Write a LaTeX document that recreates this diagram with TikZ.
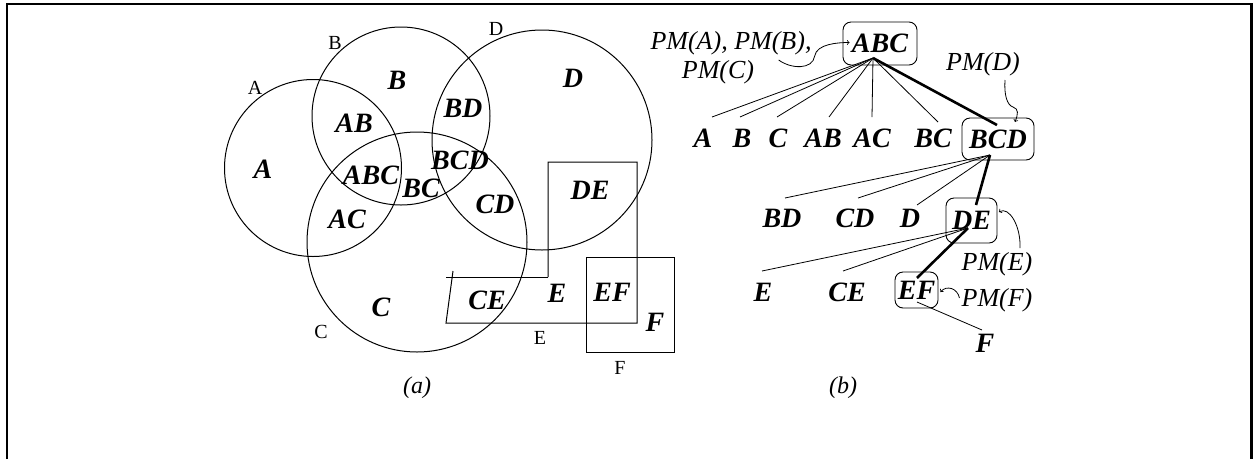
\documentclass[tikz,border=0pt]{standalone}
\usepackage{fontspec}
\setmainfont{Liberation Serif}
\usetikzlibrary{calc}
\begin{document}
\begin{tikzpicture}[x=1pt,y=-1pt,
  lbl/.style={font=\fontsize{28}{30}\selectfont\bfseries\itshape, inner sep=0pt},
  setname/.style={font=\fontsize{20}{22}\selectfont, inner sep=0pt},
  pm/.style={font=\fontsize{26}{28}\selectfont\itshape, inner sep=0pt},
  captext/.style={font=\fontsize{24}{26}\selectfont\itshape, inner sep=0pt},
  setline/.style={line width=1pt},
  boxed/.style={lbl, draw, rounded corners=8pt, line width=0.9pt},
  edge/.style={line width=0.8pt},
  thickedge/.style={line width=2.6pt},
  pmarrow/.style={line width=0.8pt, ->},
  frameline/.style={line width=2.5pt}]
\useasboundingbox (0,0) rectangle (1253,459);
% frame
\draw[frameline] (7,459) -- (7,4) -- (1251.5,4) -- (1251.5,459);

% ---------- (a) Venn diagram ----------
\draw[setline] (313,168) circle[radius=88.5pt];
\draw[setline] (401,116) circle[radius=89pt];
\draw[setline] (417,242) circle[radius=110pt];
\draw[setline] (542,140) circle[radius=110pt];
% region E
\draw[setline] (548,277) -- (548,162) -- (637,162) -- (637,323) -- (446,323) -- (453,271);
\draw[setline] (446,277) -- (548,277);
% region F
\draw[setline] (586,257) rectangle (674,352);

% set names
\node[setname] (sA) at (255,88) {A};
\node[setname] (sB) at (335,43) {B};
\node[setname] (sC) at (321,332) {C};
\node[setname] (sD) at (496,29) {D};
\node[setname] (sE) at (540,338) {E};
\node[setname] (sF) at (620,368) {F};

% region labels
\node[lbl] (vA) at (263,169) {A};
\node[lbl] (vB) at (397,80) {B};
\node[lbl] (vAB) at (354,123) {AB};
\node[lbl] (vBD) at (463,108) {BD};
\node[lbl] (vD) at (573,78) {D};
\node[lbl] (vABC) at (371,175) {ABC};
\node[lbl] (vBC) at (421,188) {BC};
\node[lbl] (vBCD) at (460,160) {BCD};
\node[lbl] (vAC) at (347,219) {AC};
\node[lbl] (vCD) at (495,204) {CD};
\node[lbl] (vDE) at (590,190) {DE};
\node[lbl] (vC) at (381,307) {C};
\node[lbl] (vCE) at (487,300) {CE};
\node[lbl] (vE) at (557,293) {E};
\node[lbl] (vEF) at (612,292) {EF};
\node[lbl] (vF) at (655,322) {F};

\node[captext] (capa) at (417,388) {(a)};

% ---------- (b) tree ----------
\node[pm] (pmab) at (731,43) {PM(A), PM(B),};
\node[pm] (pmc) at (718,72) {PM(C)};
\node[pm] (pmd) at (983,64) {PM(D)};
\node[pm] (pme) at (997,264) {PM(E)};
\node[pm] (pmf) at (997,300) {PM(F)};

\node[boxed, minimum width=74pt, minimum height=43pt] (ABC) at (880,43.5) {ABC};
\node[boxed, minimum width=72pt, minimum height=42pt] (BCD) at (998,139) {BCD};
\node[boxed, minimum width=51pt, minimum height=45pt] (DE) at (971.5,220.5) {DE};
\node[boxed, minimum width=43pt, minimum height=36pt] (EF) at (916.5,290) {EF};

\node[lbl] (tA) at (703,138) {A};
\node[lbl] (tB) at (742,138) {B};
\node[lbl] (tC) at (778,138) {C};
\node[lbl] (tAB) at (823,138) {AB};
\node[lbl] (tAC) at (872,138) {AC};
\node[lbl] (tBC) at (933,138) {BC};
\node[lbl] (tBD) at (782,218) {BD};
\node[lbl] (tCD) at (855,218) {CD};
\node[lbl] (tD) at (910,218) {D};
\node[lbl] (tE) at (763,292) {E};
\node[lbl] (tCE) at (847,292) {CE};
\node[lbl] (tF) at (985,343) {F};

\node[captext] (capb) at (843,388) {(b)};

% edge feet
\coordinate (abcF) at ($(ABC)+(-7,14.5)$);
\coordinate (bcdF) at ($(BCD)+(-8,16)$);
\coordinate (deF) at ($(DE)+(-3.5,7.5)$);
\coordinate (efF) at ($(EF)+(0.5,12)$);

\draw[edge] (abcF) -- ($(tA)+(9,-21)$);
\draw[edge] (abcF) -- ($(tB)+(-2,-21)$);
\draw[edge] (abcF) -- ($(tC)+(-1,-21)$);
\draw[edge] (abcF) -- ($(tAB)+(6,-21)$);
\draw[edge] (abcF) -- ($(tAC)+(0,-21)$);
\draw[edge] (abcF) -- ($(tBC)+(5,-16)$);
\draw[thickedge] (abcF) -- ($(BCD)+(-1,-14)$);

\draw[edge] (bcdF) -- ($(tBD)+(3,-20)$);
\draw[edge] (bcdF) -- ($(tCD)+(3,-20)$);
\draw[edge] (bcdF) -- ($(tD)+(7,-13)$);
\draw[thickedge] (bcdF) -- ($(DE)+(4.5,-15.5)$);

\draw[edge] (deF) -- ($(tE)+(-1,-21)$);
\draw[edge] (deF) -- ($(tCE)+(-4,-21)$);
\draw[thickedge] (deF) -- ($(EF)+(0.5,-12)$);

\draw[edge] (efF) -- ($(tF)+(-3,-13)$);

% PM arrows
\coordinate (pmabS) at ($(pmab.south east)+(-33,5)$);
\coordinate (abcIn) at ($(ABC.west)+(7,-1)$);
\draw[pmarrow] (pmabS) .. controls +(12,9) and +(-2,14) .. ($(pmabS)+(36,-4)$)
  .. controls +(2,-12) and +(-12,0) .. (abcIn);

\coordinate (pmdS) at ($(pmd)+(22,16)$);
\coordinate (pmdM) at ($(pmd)+(30,43)$);
\coordinate (bcdIn) at ($(BCD)+(17,-17)$);
\draw[pmarrow] (pmdS) .. controls +(-1,15) and +(-6,-2) .. (pmdM)
  .. controls +(6,2) and +(3,-8) .. (bcdIn);

\coordinate (pmeS) at ($(pme)+(23,-16)$);
\coordinate (deIn) at ($(DE.east)+(1.5,-8.5)$);
\draw[pmarrow] (pmeS) .. controls +(1,-22) and +(10,-6) .. (deIn);

\coordinate (pmfS) at ($(pmf.west)+(-2,-2)$);
\coordinate (efIn) at ($(EF.east)+(2,2)$);
\draw[pmarrow] (pmfS) .. controls +(-2,-10) and +(6,-7) .. (efIn);
\end{tikzpicture}
\end{document}
